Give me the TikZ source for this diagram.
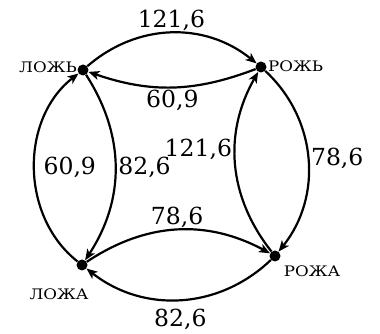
\documentclass[tikz,border=0pt]{standalone}
\usepackage{fontspec}
\setmainfont{DejaVu Serif}
\usetikzlibrary{arrows.meta}
\begin{document}
\begin{tikzpicture}[x=1pt,y=1pt,
  vdot/.style={circle,fill=black,inner sep=0pt,minimum size=11pt},
  wlabel/.style={font=\fontsize{14.5}{16}\selectfont,inner sep=1pt},
  edge/.style={line width=2.2pt,-{Stealth[length=11pt,width=9pt,inset=3pt]}},
  num/.style={font=\fontsize{23.5}{27}\selectfont,inner sep=2pt}]
\useasboundingbox (0,0) rectangle (380,334);
\node[vdot] (A) at (83,264) {};
\node[vdot] (B) at (261,267) {};
\node[vdot] (C) at (82,69) {};
\node[vdot] (D) at (275,78) {};
\node[wlabel,anchor=east] (lA) at (78,267) {\scalebox{1.15}[1]{ЛОЖЬ}};
\node[wlabel,anchor=west] (lB) at (267,268) {\scalebox{1.15}[1]{РОЖЬ}};
\node[wlabel] (lC) at (59,40) {\scalebox{1.15}[1]{ЛОЖА}};
\node[wlabel] (lD) at (312,63) {\scalebox{1.15}[1]{РОЖА}};
\draw[edge] (A) to[bend left=40] node[num,midway,above=-1pt] {121,6} (B);
\draw[edge] (B) to[bend left=20] node[num,midway,below] {60,9} (A);
\draw[edge] (C) to[bend left=52] node[num,midway,right=6pt] {60,9} (A);
\draw[edge] (A) to[bend left=33] node[num,midway,right] {82,6} (C);
\draw[edge] (D) to[bend left=34] node[num,pos=0.58,left] {121,6} (B);
\draw[edge] (B) to[bend left=43] node[num,midway,right] {78,6} (D);
\draw[edge] (C) to[bend left=31] node[num,midway,above=-1pt] {78,6} (D);
\draw[edge] (D) to[bend left=41] node[num,midway,below=6pt] {82,6} (C);
\end{tikzpicture}
\end{document}
